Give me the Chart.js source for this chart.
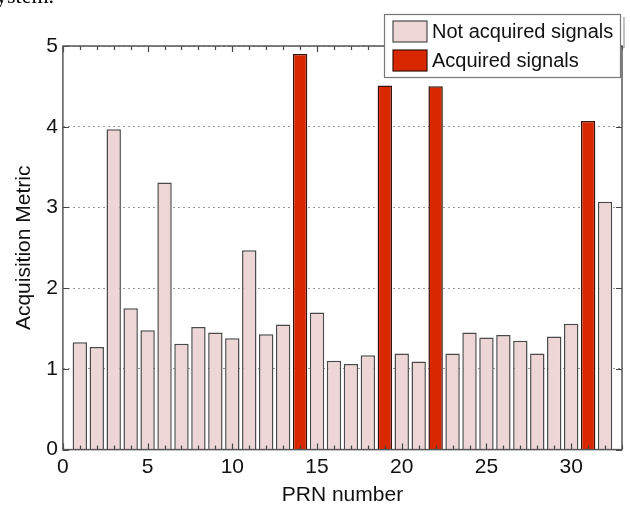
<!DOCTYPE html>
<html>
<head>
<meta charset="utf-8">
<script src="https://cdn.jsdelivr.net/npm/chart.js@4/dist/chart.umd.min.js"></script>
<style>
  html, body { margin: 0; padding: 0; background: #fff; }
  #wrap { position: relative; width: 630px; height: 509px; overflow: hidden; }
  #cut { position: absolute; left: -4px; top: -17px; font: 22px "Liberation Serif", serif; color: #000; }
  canvas { position: absolute; left: 0; top: 0; }
</style>
</head>
<body>
<div id="wrap">
  <canvas id="prnChart" width="630" height="509"></canvas>
  <div id="cut">ystem.</div>
</div>
<script>
// PRN numbers and acquisition metric
var prn = [1, 2, 3, 4, 5, 6, 7, 8, 9, 10, 11, 12, 13, 14, 15, 16,
           17, 18, 19, 20, 21, 22, 23, 24, 25, 26, 27, 28, 29, 30, 31, 32];
var metric = [1.33, 1.27, 3.97, 1.75, 1.48, 3.31, 1.31, 1.52, 1.45, 1.38, 2.47, 1.43, 1.55, 4.90, 1.70, 1.10,
              1.06, 1.17, 4.51, 1.19, 1.09, 4.50, 1.19, 1.45, 1.39, 1.42, 1.35, 1.19, 1.40, 1.56, 4.07, 3.07];
var acquired = [14, 19, 22, 31];
var seriesNames = ['Not acquired signals', 'Acquired signals'];
var xTicks = [0, 5, 10, 15, 20, 25, 30];
var yTicks = [0, 1, 2, 3, 4, 5];

var fillColors = ['#eed6d6', '#d92800'];
var lineColors = ['#4a4a4a', '#3a1208'];

var notAcq = [];
var acq = [];
for (var i = 0; i < prn.length; i++) {
    var isAcq = acquired.indexOf(prn[i]) >= 0;
    notAcq.push({x: prn[i], y: isAcq ? null : metric[i]});
    acq.push({x: prn[i], y: isAcq ? metric[i] : null});
}

var FONT = '"Liberation Sans", Arial, sans-serif';

// frame, inward ticks (matlab style) and the floating legend
var matlabBox = {
    id: 'matlabBox',
    afterDraw: function(chart) {
        var ctx = chart.ctx;
        var a = chart.chartArea;
        var xs = chart.scales.x, ys = chart.scales.y;
        ctx.save();
        ctx.strokeStyle = '#444';
        ctx.lineWidth = 1.2;
        ctx.beginPath();
        for (var k = 0; k <= 33; k++) {
            var px = Math.round(xs.getPixelForValue(k)) + 0.5;
            var len = (k % 5 === 0) ? 6 : 4;
            ctx.moveTo(px, a.top); ctx.lineTo(px, a.top + len);
            ctx.moveTo(px, a.bottom); ctx.lineTo(px, a.bottom - len);
        }
        for (var j = 0; j < yTicks.length; j++) {
            var py = Math.round(ys.getPixelForValue(yTicks[j])) + 0.5;
            ctx.moveTo(a.left, py); ctx.lineTo(a.left + 6, py);
            ctx.moveTo(a.right, py); ctx.lineTo(a.right - 6, py);
        }
        ctx.stroke();
        ctx.lineWidth = 1.5;
        ctx.strokeStyle = '#555';
        ctx.strokeRect(a.left, a.top, a.right - a.left, a.bottom - a.top);

        // legend
        var lx = 384, ly = 14, lw = 236, lh = 63;
        ctx.fillStyle = '#fff';
        ctx.fillRect(lx, ly, lw, lh);
        ctx.strokeStyle = '#777';
        ctx.lineWidth = 1.2;
        ctx.strokeRect(lx + 0.5, ly + 0.5, lw, lh);
        ctx.strokeStyle = '#999';
        ctx.beginPath();
        ctx.moveTo(lx + lw + 4, ly + 3); ctx.lineTo(lx + lw + 4, a.top + 2);
        ctx.stroke();
        ctx.font = '20px ' + FONT;
        ctx.textBaseline = 'middle';
        for (var d = 0; d < seriesNames.length; d++) {
            var rowY = ly + 17 + d * 29;
            ctx.fillStyle = fillColors[d];
            ctx.fillRect(lx + 9, rowY - 10, 34, 21);
            ctx.strokeStyle = lineColors[d];
            ctx.lineWidth = 1.2;
            ctx.strokeRect(lx + 9, rowY - 10, 34, 21);
            ctx.fillStyle = '#111';
            ctx.fillText(seriesNames[d], lx + 48, rowY + 1);
        }
        ctx.restore();
    }
};

var chartdata = {
    datasets: [
        {
            label: seriesNames[0],
            data: notAcq,
            backgroundColor: fillColors[0],
            borderColor: lineColors[0],
            borderWidth: 1.5
        },
        {
            label: seriesNames[1],
            data: acq,
            backgroundColor: fillColors[1],
            borderColor: lineColors[1],
            borderWidth: 1.5
        }
    ]
};

var options = {
    responsive: false,
    animation: false,
    layout: { padding: { top: 46, right: 8, left: 8, bottom: 1 } },
    plugins: { legend: { display: false }, tooltip: { enabled: false } },
    datasets: { bar: { grouped: false, barPercentage: 0.85, categoryPercentage: 1 } },
    scales: {
        x: {
            type: 'linear',
            min: 0, max: 33,
            offset: false,
            afterBuildTicks: function(axis) {
                axis.ticks = xTicks.map(function(v) { return {value: v}; });
            },
            ticks: { color: '#111', font: { size: 21, family: FONT }, padding: -3, maxRotation: 0 },
            grid: { display: false },
            border: { display: false },
            title: { display: true, text: 'PRN number', color: '#111', font: { size: 21, family: FONT }, padding: { top: 6, bottom: 0 } }
        },
        y: {
            min: 0, max: 5,
            ticks: { stepSize: 1, color: '#111', font: { size: 21, family: FONT }, padding: 5 },
            grid: { color: '#999', borderDash: [2, 3], drawTicks: false, lineWidth: 1 },
            border: { display: false, dash: [2, 3] },
            title: { display: true, text: 'Acquisition Metric', color: '#111', font: { size: 21, family: FONT }, padding: { bottom: 4 } }
        }
    }
};

var barGraph = new Chart(document.getElementById('prnChart'), {
    type: 'bar',
    data: chartdata,
    options: options,
    plugins: [matlabBox]
});
</script>
</body>
</html>
